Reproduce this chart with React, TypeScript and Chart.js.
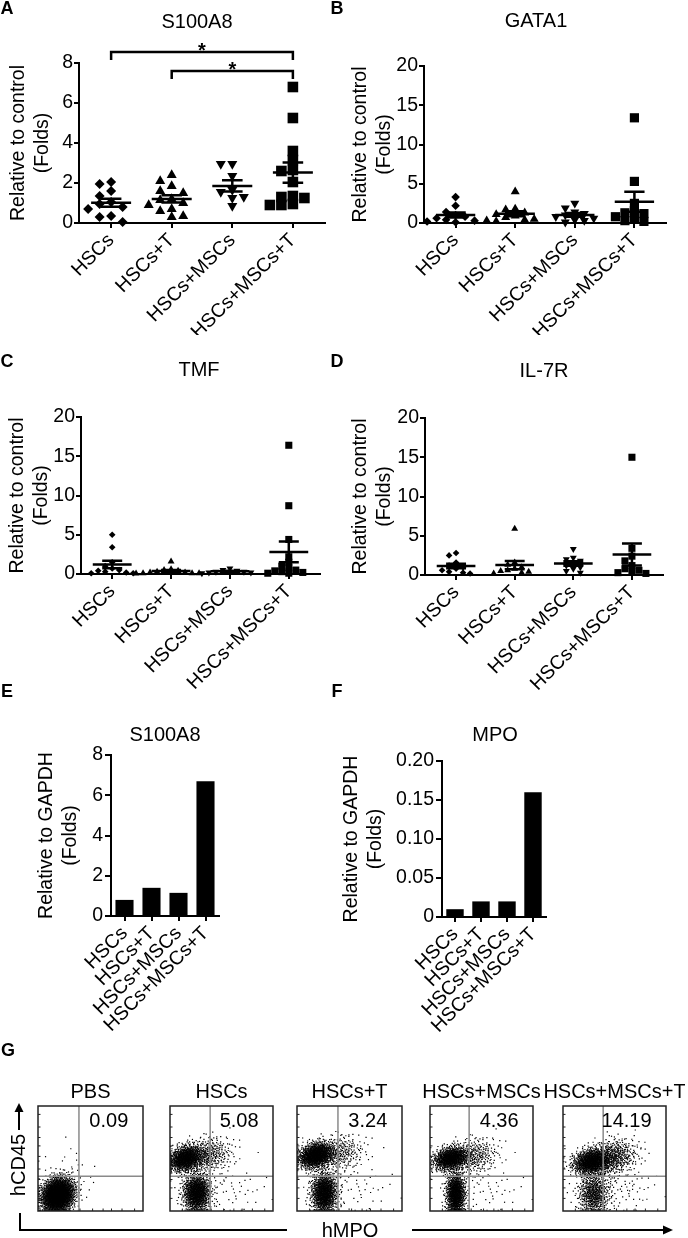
import React, { useEffect, useRef } from 'react';
import { Chart, registerables } from 'chart.js';

Chart.register(...registerables);

const FAMILY = "'Liberation Sans', Arial, Helvetica, sans-serif";

// ---------------- data ----------------
const groups = ['HSCs', 'HSCs+T', 'HSCs+MSCs', 'HSCs+MSCs+T'];

// A: S100A8 (relative to control, folds)
const s100a8HSCs = [2.05, 1.95, 1.6, 1.35, 1.05, 0.95, 0.8, 0.7, 0.35, 0.3, 0.05];
const s100a8HSCsT = [2.4, 2.1, 1.85, 1.6, 1.5, 1.2, 1.15, 1.0, 0.9, 0.7, 0.6, 0.35, 0.3];
const s100a8HSCsMSCs = [2.95, 2.95, 2.35, 1.65, 1.55, 1.3, 1.25, 0.85];
const s100a8HSCsMSCsT = [6.8, 5.25, 3.6, 3.15, 2.65, 2.6, 2.05, 1.35, 1.3, 1.25, 0.95, 0.9, 0.9];
const sigFrom = [0, 1];
const sigTo = [3, 3];
const sigLevel = [8.55, 7.6];
const sigMark = ['*', '*'];

// B: GATA1
const gata1HSCs = [3.3, 2.2, 1.4, 1.0, 0.8, 0.6, 0.4, 0.3, 0.2, 0.1];
const gata1HSCsT = [4.0, 1.8, 1.7, 1.3, 1.1, 0.9, 0.7, 0.5, 0.4, 0.3, 0.2];
const gata1HSCsMSCs = [2.5, 1.9, 1.4, 1.2, 1.0, 0.8, 0.6, 0.4, 0.3, 0.1];
const gata1HSCsMSCsT = [13.4, 5.3, 2.5, 1.6, 1.3, 1.2, 0.8, 0.5, 0.3, 0.2];

// C: TMF
const tmfHSCs = [5.0, 3.4, 1.5, 1.0, 0.7, 0.5, 0.4, 0.3, 0.2, 0.1, 0.1];
const tmfHSCsT = [1.6, 0.6, 0.5, 0.4, 0.3, 0.2, 0.2, 0.1, 0.1, 0.1, 0.05];
const tmfHSCsMSCs = [0.7, 0.5, 0.4, 0.3, 0.3, 0.2, 0.2, 0.1];
const tmfHSCsMSCsT = [16.4, 8.7, 4.4, 2.2, 1.5, 1.0, 0.8, 0.5, 0.4, 0.3, 0.2, 0.1, 0.1];

// D: IL-7R
const il7rHSCs = [2.8, 2.5, 1.6, 1.2, 1.0, 0.8, 0.6, 0.4, 0.3, 0.2];
const il7rHSCsT = [5.9, 1.6, 1.3, 1.0, 0.8, 0.6, 0.5, 0.4, 0.3, 0.2];
const il7rHSCsMSCs = [3.3, 2.2, 2.0, 1.8, 1.5, 1.2, 1.0, 0.8, 0.5, 0.3];
const il7rHSCsMSCsT = [15.0, 3.4, 2.4, 1.8, 1.2, 0.8, 0.6, 0.4, 0.3, 0.2];

// E / F: relative to GAPDH
const gapdhS100A8 = [0.8, 1.4, 1.15, 6.7];
const gapdhMPO = [0.01, 0.02, 0.02, 0.16];

// G: flow cytometry
const flowTitles = ['PBS', 'HSCs', 'HSCs+T', 'HSCs+MSCs', 'HSCs+MSCs+T'];
const flowUpperRight = ['0.09', '5.08', '3.24', '4.36', '14.19'];
const flowGateMPO = [39, 39, 39, 38, 39];
const flowGateCD45 = [33, 33, 33, 33, 33];
// event populations: [centre hMPO %, centre hCD45 %, spread x, spread y, events, correlation]
const flowPBS = [[19, 15, 7.5, 8, 2400, 0.15], [30, 40, 14, 12, 25, 0]];
const flowHSCs = [[15, 50, 8, 6, 1000, 0.25], [36, 53, 12, 8.5, 400, 0.2], [26, 17, 6.5, 9, 1100, 0], [55, 20, 20, 13, 60, 0]];
const flowHSCsT = [[18, 53, 8, 6, 1200, 0.25], [40, 55, 12, 8.5, 300, 0.2], [26, 17, 6, 9.5, 1100, 0], [52, 22, 20, 14, 60, 0]];
const flowHSCsMSCs = [[20, 50, 8, 5.5, 950, 0.25], [42, 52, 12, 8.5, 330, 0.2], [25, 16, 4.5, 10, 1000, 0], [52, 20, 20, 13, 60, 0]];
const flowHSCsMSCsT = [[28, 47, 9, 6, 1100, 0.2], [48, 51, 12, 8.5, 550, 0.2], [30, 16, 7.5, 10, 600, 0], [56, 22, 18, 12, 80, 0]];
const flowPops = [flowPBS, flowHSCs, flowHSCsT, flowHSCsMSCs, flowHSCsMSCsT];

// ---------------- helpers ----------------
type Box = { left: number; top: number; width: number; height: number };
type Area = { l: number; t: number; r: number; b: number };
type TextItem = { text: string; x: number; y: number; size?: number; bold?: boolean; align?: CanvasTextAlign; rot?: number };

const grid = (len: number) => ({
  display: true, drawOnChartArea: false, drawTicks: true, tickLength: len, tickWidth: 2,
  color: '#000', tickColor: '#000', lineWidth: 2,
});
const border = { display: true, color: '#000', width: 2 };

function pageText(box: Box, items: TextItem[]) {
  return {
    id: 'pageText',
    afterDraw(chart: any) {
      const ctx: CanvasRenderingContext2D = chart.ctx;
      items.forEach((it) => {
        ctx.save();
        ctx.font = `${it.bold ? 'bold ' : ''}${it.size ?? 19.5}px ${FAMILY}`;
        ctx.fillStyle = '#000';
        ctx.textAlign = it.align ?? 'center';
        ctx.textBaseline = 'middle';
        ctx.translate(it.x - box.left, it.y - box.top);
        if (it.rot) ctx.rotate(it.rot);
        ctx.fillText(it.text, 0, 0);
        ctx.restore();
      });
    },
  };
}

function swarm(vals: number[], gapX: number, gapY: number, xPx: number, yPx: number) {
  const placed: { x: number; y: number }[] = [];
  return vals.map((v) => {
    const y = v * yPx;
    for (let k = 0; k < 60; k++) {
      const s = k === 0 ? 0 : (k % 2 ? -1 : 1) * Math.ceil(k / 2);
      const x = s * gapX;
      if (placed.every((q) => Math.abs(q.x - x) >= gapX || Math.abs(q.y - y) >= gapY)) {
        placed.push({ x, y });
        return x / xPx;
      }
    }
    return 0;
  });
}

function meanSem(series: number[][]) {
  return {
    id: 'meanSem',
    afterDatasetsDraw(chart: any) {
      const { ctx } = chart;
      const xs = chart.scales.x;
      const ys = chart.scales.y;
      ctx.save();
      ctx.strokeStyle = '#000';
      ctx.lineWidth = 2.5;
      series.forEach((vals, i) => {
        const n = vals.length;
        const m = vals.reduce((a, b) => a + b, 0) / n;
        const sd = Math.sqrt(vals.reduce((a, b) => a + (b - m) * (b - m), 0) / (n - 1));
        const sem = sd / Math.sqrt(n);
        const px = (v: number) => xs.getPixelForValue(v);
        const py = (v: number) => ys.getPixelForValue(v);
        ctx.beginPath();
        ctx.moveTo(px(i - 0.33), py(m));
        ctx.lineTo(px(i + 0.33), py(m));
        ctx.moveTo(px(i), py(Math.max(0, m - sem)));
        ctx.lineTo(px(i), py(m + sem));
        ctx.moveTo(px(i - 0.17), py(m + sem));
        ctx.lineTo(px(i + 0.17), py(m + sem));
        ctx.moveTo(px(i - 0.17), py(m - sem));
        ctx.lineTo(px(i + 0.17), py(m - sem));
        ctx.stroke();
      });
      ctx.restore();
    },
  };
}

function brackets() {
  return {
    id: 'brackets',
    afterDatasetsDraw(chart: any) {
      const { ctx } = chart;
      const xs = chart.scales.x;
      const ys = chart.scales.y;
      ctx.save();
      ctx.strokeStyle = '#000';
      ctx.fillStyle = '#000';
      ctx.lineWidth = 2.5;
      sigFrom.forEach((f, i) => {
        const x1 = xs.getPixelForValue(f);
        const x2 = xs.getPixelForValue(sigTo[i]);
        const y1 = ys.getPixelForValue(sigLevel[i]);
        const y2 = ys.getPixelForValue(sigLevel[i] - 0.4);
        ctx.beginPath();
        ctx.moveTo(x1, y2);
        ctx.lineTo(x1, y1);
        ctx.lineTo(x2, y1);
        ctx.lineTo(x2, y2);
        ctx.stroke();
        ctx.font = `bold 20px ${FAMILY}`;
        ctx.textAlign = 'center';
        ctx.textBaseline = 'alphabetic';
        ctx.fillText(sigMark[i], (x1 + x2) / 2, y1 + 5);
      });
      ctx.restore();
    },
  };
}

function dotPlot(box: Box, area: Area, series: number[][], yMax: number, yStep: number, radii: number[], gapX: number, gapY: number, labelX: number, texts: TextItem[], extra: any[] = []) {
  const xMin = -0.53;
  const xMax = 3.53;
  const xPx = (area.r - area.l) / (xMax - xMin);
  const yPx = (area.b - area.t) / yMax;
  const styles = ['rectRot', 'triangle', 'triangle', 'rect'];
  const rotations = [0, 0, 180, 0];
  const datasets = series.map((vals, i) => {
    const offs = swarm(vals, gapX, gapY, xPx, yPx);
    return {
      data: vals.map((v, j) => ({ x: i + offs[j], y: v })),
      pointStyle: styles[i],
      rotation: rotations[i],
      pointRadius: radii[i],
      pointHoverRadius: radii[i],
      backgroundColor: '#000',
      borderColor: '#000',
      borderWidth: 0,
      clip: false,
    };
  });
  const lh = 19.5 * 1.2;
  return {
    type: 'scatter',
    data: { datasets },
    options: {
      responsive: false, animation: false, devicePixelRatio: 1, events: [],
      layout: { padding: { left: 0, right: box.left + box.width - area.r, top: area.t - box.top, bottom: 0 } },
      scales: {
        x: {
          type: 'linear', min: xMin, max: xMax,
          afterBuildTicks: (s: any) => { s.ticks = groups.map((_, i) => ({ value: i })); },
          afterFit: (s: any) => { s.height = box.top + box.height - area.b; },
          ticks: {
            autoSkip: false, minRotation: 45, maxRotation: 45, padding: 1, color: '#000',
            font: { family: FAMILY, size: 19.5 }, callback: (v: number) => groups[v] ?? '',
          },
          grid: grid(5), border,
        },
        y: {
          min: 0, max: yMax,
          afterFit: (s: any) => { s.width = area.l - box.left; },
          ticks: { stepSize: yStep, padding: 1, color: '#000', font: { family: FAMILY, size: 19.5 } },
          grid: grid(5), border,
          title: {
            display: true, text: ['Relative to control', '(Folds)'], color: '#000',
            font: { family: FAMILY, size: 19.5, lineHeight: 1.2 },
            padding: { top: labelX - box.left - lh / 2, bottom: 0 },
          },
        },
      },
      plugins: { legend: { display: false }, tooltip: { enabled: false } },
    },
    plugins: [meanSem(series), pageText(box, texts), ...extra],
  };
}

function barPlot(box: Box, area: Area, values: number[], yMax: number, yStep: number, labelX: number, texts: TextItem[], fmt: (v: number) => string) {
  const lh = 19.5 * 1.2;
  return {
    type: 'bar',
    data: {
      labels: groups,
      datasets: [{ data: values, backgroundColor: '#000', borderWidth: 0, barPercentage: 0.67, categoryPercentage: 1 }],
    },
    options: {
      responsive: false, animation: false, devicePixelRatio: 1, events: [],
      layout: { padding: { left: 0, right: box.left + box.width - area.r, top: area.t - box.top, bottom: 0 } },
      scales: {
        x: {
          afterFit: (s: any) => { s.height = box.top + box.height - area.b; },
          ticks: { autoSkip: false, minRotation: 45, maxRotation: 45, padding: 1, color: '#000', font: { family: FAMILY, size: 19.5 } },
          grid: { ...grid(5), offset: false }, border,
        },
        y: {
          min: 0, max: yMax,
          afterFit: (s: any) => { s.width = area.l - box.left; },
          ticks: { stepSize: yStep, padding: 2, color: '#000', font: { family: FAMILY, size: 19.5 }, callback: (v: number) => fmt(v) },
          grid: grid(6), border,
          title: {
            display: true, text: ['Relative to GAPDH', '(Folds)'], color: '#000',
            font: { family: FAMILY, size: 19.5, lineHeight: 1.2 },
            padding: { top: labelX - box.left - lh / 2, bottom: 0 },
          },
        },
      },
      plugins: { legend: { display: false }, tooltip: { enabled: false } },
    },
    plugins: [pageText(box, texts)],
  };
}

function halton(i: number, b: number) {
  let f = 1;
  let r = 0;
  while (i > 0) {
    f /= b;
    r += f * (i % b);
    i = Math.floor(i / b);
  }
  return r;
}

function events(pops: number[][]) {
  const out: { x: number; y: number }[] = [];
  const clamp = (v: number) => Math.min(99.3, Math.max(0.7, v));
  pops.forEach((p, pi) => {
    const [cx, cy, sx, sy, n, rho] = p;
    for (let k = 1; k <= n; k++) {
      const idx = k + 409 + pi * 3571;
      const u1 = Math.max(halton(idx, 2), 1e-6);
      const u2 = halton(idx, 3);
      const r = Math.sqrt(-2 * Math.log(u1));
      const z1 = r * Math.cos(2 * Math.PI * u2);
      const z2 = r * Math.sin(2 * Math.PI * u2);
      out.push({ x: clamp(cx + sx * z1), y: clamp(cy + sy * (rho * z1 + Math.sqrt(1 - rho * rho) * z2)) });
    }
  });
  return out;
}

function flowFrame(i: number) {
  return {
    id: 'flowFrame',
    afterDatasetsDraw(chart: any) {
      const { ctx, chartArea: a } = chart;
      const xs = chart.scales.x;
      const ys = chart.scales.y;
      ctx.save();
      ctx.strokeStyle = '#8a8a8a';
      ctx.lineWidth = 1.5;
      const gx = xs.getPixelForValue(flowGateMPO[i]);
      const gy = ys.getPixelForValue(flowGateCD45[i]);
      ctx.beginPath();
      ctx.moveTo(gx, a.top);
      ctx.lineTo(gx, a.bottom);
      ctx.moveTo(a.left, gy);
      ctx.lineTo(a.right, gy);
      ctx.stroke();
      ctx.strokeStyle = '#222';
      ctx.lineWidth = 1.5;
      ctx.strokeRect(a.left, a.top, a.right - a.left, a.bottom - a.top);
      ctx.lineWidth = 1;
      ctx.beginPath();
      [12, 22, 30, 40, 52, 62, 70, 80, 92].forEach((t) => {
        const py = ys.getPixelForValue(t);
        ctx.moveTo(a.left, py);
        ctx.lineTo(a.left + 2.5, py);
        const px = xs.getPixelForValue(t);
        ctx.moveTo(px, a.bottom);
        ctx.lineTo(px, a.bottom - 2.5);
      });
      ctx.stroke();
      ctx.restore();
    },
  };
}

function flowPlot(box: Box, area: Area, i: number) {
  return {
    type: 'scatter',
    data: {
      datasets: [{ data: events(flowPops[i]), pointStyle: 'rect', pointRadius: 0.85, pointHoverRadius: 0, backgroundColor: '#000', borderWidth: 0 }],
    },
    options: {
      responsive: false, animation: false, devicePixelRatio: 1, events: [],
      layout: { padding: { left: area.l - box.left, right: box.left + box.width - area.r, top: area.t - box.top, bottom: box.top + box.height - area.b } },
      scales: { x: { display: false, min: 0, max: 100 }, y: { display: false, min: 0, max: 100 } },
      plugins: { legend: { display: false }, tooltip: { enabled: false } },
    },
    plugins: [
      flowFrame(i),
      pageText(box, [
        { text: flowTitles[i], x: (area.l + area.r) / 2, y: 1092, size: 20 },
        { text: flowUpperRight[i], x: area.l + 0.86 * (area.r - area.l), y: 1121, size: 20, align: 'right' },
      ]),
    ],
  };
}

function gDecor(box: Box) {
  return {
    id: 'gDecor',
    afterDraw(chart: any) {
      const ctx: CanvasRenderingContext2D = chart.ctx;
      const X = (v: number) => v - box.left;
      const Y = (v: number) => v - box.top;
      ctx.save();
      ctx.strokeStyle = '#000';
      ctx.fillStyle = '#000';
      ctx.lineWidth = 2;
      ctx.beginPath();
      ctx.moveTo(X(19), Y(1130));
      ctx.lineTo(X(19), Y(1110));
      ctx.stroke();
      ctx.beginPath();
      ctx.moveTo(X(19), Y(1103));
      ctx.lineTo(X(14.5), Y(1112));
      ctx.lineTo(X(23.5), Y(1112));
      ctx.closePath();
      ctx.fill();
      ctx.beginPath();
      ctx.moveTo(X(20), Y(1213));
      ctx.lineTo(X(20), Y(1230));
      ctx.lineTo(X(287), Y(1230));
      ctx.stroke();
      ctx.beginPath();
      ctx.moveTo(X(412), Y(1230));
      ctx.lineTo(X(664), Y(1230));
      ctx.stroke();
      ctx.beginPath();
      ctx.moveTo(X(673), Y(1230));
      ctx.lineTo(X(663), Y(1225.5));
      ctx.lineTo(X(663), Y(1234.5));
      ctx.closePath();
      ctx.fill();
      ctx.restore();
    },
  };
}

function frameChart(box: Box) {
  return {
    type: 'scatter',
    data: { datasets: [] },
    options: {
      responsive: false, animation: false, devicePixelRatio: 1, events: [],
      scales: { x: { display: false }, y: { display: false } },
      plugins: { legend: { display: false }, tooltip: { enabled: false } },
    },
    plugins: [
      gDecor(box),
      pageText(box, [
        { text: 'G', x: 8, y: 1051, size: 18, bold: true },
        { text: 'hCD45', x: 19, y: 1165, size: 20, rot: -Math.PI / 2 },
        { text: 'hMPO', x: 350, y: 1231, size: 20 },
      ]),
    ],
  };
}

// ---------------- layout ----------------
const boxA: Box = { left: 0, top: 0, width: 336, height: 335 };
const boxB: Box = { left: 328, top: 0, width: 360, height: 335 };
const boxC: Box = { left: 0, top: 335, width: 336, height: 355 };
const boxD: Box = { left: 328, top: 335, width: 360, height: 355 };
const boxE: Box = { left: 0, top: 675, width: 336, height: 365 };
const boxF: Box = { left: 328, top: 675, width: 360, height: 365 };
const boxG: Box = { left: 0, top: 1040, width: 688, height: 198 };

const areaA: Area = { l: 79, t: 63, r: 325, b: 223 };
const areaB: Area = { l: 424, t: 66, r: 666, b: 223 };
const areaC: Area = { l: 81, t: 417, r: 320, b: 574 };
const areaD: Area = { l: 425, t: 418, r: 663, b: 575 };
const areaE: Area = { l: 111, t: 755, r: 219, b: 916 };
const areaF: Area = { l: 442, t: 761, r: 546, b: 917 };

const flowAreas: Area[] = [
  { l: 38, t: 1106, r: 143, b: 1211 },
  { l: 170, t: 1106, r: 273, b: 1211 },
  { l: 297, t: 1106, r: 402, b: 1211 },
  { l: 430, t: 1106, r: 533, b: 1211 },
  { l: 563, t: 1106, r: 666, b: 1211 },
];

function ChartCanvas({ box, make }: { box: Box; make: () => any }) {
  const ref = useRef<HTMLCanvasElement>(null);
  useEffect(() => {
    const chart = new Chart(ref.current as HTMLCanvasElement, make());
    return () => chart.destroy();
  }, []);
  return (
    <canvas
      ref={ref}
      width={box.width}
      height={box.height}
      style={{ position: 'absolute', left: box.left, top: box.top, width: box.width, height: box.height, display: 'block' }}
    />
  );
}

export default function App() {
  const flowBoxes: Box[] = flowAreas.map((a) => ({ left: Math.round((a.l + a.r) / 2 - 70), top: 1075, width: 140, height: 145 }));
  return (
    <div style={{ position: 'absolute', left: 0, top: 0, width: 688, height: 1238, background: '#fff', overflow: 'hidden' }}>
      <ChartCanvas box={boxA} make={() => dotPlot(boxA, areaA, [s100a8HSCs, s100a8HSCsT, s100a8HSCsMSCs, s100a8HSCsMSCsT], 8, 2, [5, 5.8, 5.8, 7.5], 11.5, 8, 19,
        [{ text: 'A', x: 7, y: 9, size: 18, bold: true }, { text: 'S100A8', x: 197, y: 22, size: 20 }], [brackets()])} />
      <ChartCanvas box={boxB} make={() => dotPlot(boxB, areaB, [gata1HSCs, gata1HSCsT, gata1HSCsMSCs, gata1HSCsMSCsT], 20, 5, [4.3, 5.2, 5.2, 6.5], 9.5, 7, 361,
        [{ text: 'B', x: 337, y: 9, size: 18, bold: true }, { text: 'GATA1', x: 536, y: 21, size: 20 }])} />
      <ChartCanvas box={boxC} make={() => dotPlot(boxC, areaC, [tmfHSCs, tmfHSCsT, tmfHSCsMSCs, tmfHSCsMSCsT], 20, 5, [3.3, 4, 4, 5], 7, 5, 18,
        [{ text: 'C', x: 7, y: 362, size: 18, bold: true }, { text: 'TMF', x: 199, y: 370, size: 20 }])} />
      <ChartCanvas box={boxD} make={() => dotPlot(boxD, areaD, [il7rHSCs, il7rHSCsT, il7rHSCsMSCs, il7rHSCsMSCsT], 20, 5, [3.3, 4, 4, 5], 7, 5, 361,
        [{ text: 'D', x: 337, y: 362, size: 18, bold: true }, { text: 'IL-7R', x: 544, y: 371, size: 20 }])} />
      <ChartCanvas box={boxE} make={() => barPlot(boxE, areaE, gapdhS100A8, 8, 2, 47,
        [{ text: 'E', x: 7, y: 692, size: 18, bold: true }, { text: 'S100A8', x: 165, y: 735, size: 20 }], (v) => String(v))} />
      <ChartCanvas box={boxF} make={() => barPlot(boxF, areaF, gapdhMPO, 0.2, 0.05, 352,
        [{ text: 'F', x: 337, y: 692, size: 18, bold: true }, { text: 'MPO', x: 495, y: 735, size: 20 }], (v) => (v === 0 ? '0' : v.toFixed(2)))} />
      <ChartCanvas box={boxG} make={() => frameChart(boxG)} />
      {flowAreas.map((a, i) => (
        <ChartCanvas key={i} box={flowBoxes[i]} make={() => flowPlot(flowBoxes[i], a, i)} />
      ))}
    </div>
  );
}
